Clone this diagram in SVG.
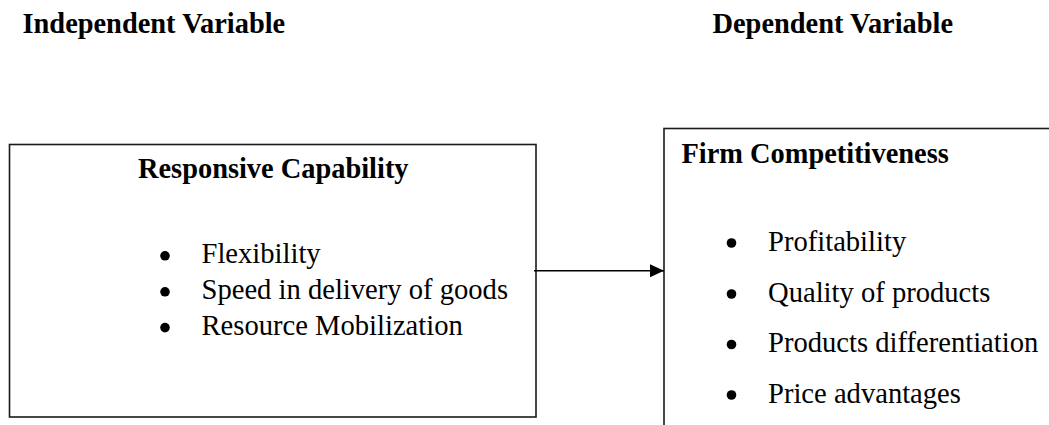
<svg xmlns="http://www.w3.org/2000/svg" width="1049" height="425" viewBox="0 0 1049 425">
  <style>
    .box { fill: #ffffff; stroke: #1a1a1a; stroke-width: 1.6; }
    .head { font-family: "Liberation Serif", "Times New Roman", serif; font-weight: bold; font-size: 28.4px; fill: #000; }
    .item { font-family: "Liberation Serif", "Times New Roman", serif; font-size: 28.6px; fill: #000; }
    .dot { fill: #000; }
    .link { stroke: #000; stroke-width: 1.6; fill: none; }
  </style>
  <defs>
    <marker id="arrow" markerUnits="userSpaceOnUse" markerWidth="16" markerHeight="14" refX="14" refY="6.5" orient="auto">
      <path d="M0,0 L14,6.5 L0,13 Z" fill="#000"/>
    </marker>
  </defs>
  <rect width="1049" height="425" fill="#ffffff"/>

  <!-- column titles -->
  <text class="head" x="22.5" y="33">Independent Variable</text>
  <text class="head" x="712.5" y="33">Dependent Variable</text>

  <!-- independent variable box -->
  <g id="responsive-capability">
    <rect class="box" x="9.5" y="144.5" width="526.5" height="272.5"/>
    <text class="head" x="138" y="178.3">Responsive Capability</text>
    <circle class="dot" cx="165" cy="255.8" r="4.8"/>
    <text class="item" x="201.5" y="263.3">Flexibility</text>
    <circle class="dot" cx="165" cy="291.8" r="4.8"/>
    <text class="item" x="201.5" y="299.3">Speed in delivery of goods</text>
    <circle class="dot" cx="165" cy="327.6" r="4.8"/>
    <text class="item" x="201.5" y="335.1">Resource Mobilization</text>
  </g>

  <!-- dependent variable box (runs past the right and bottom edges) -->
  <g id="firm-competitiveness">
    <rect class="box" x="664" y="128.5" width="420" height="330"/>
    <text class="head" x="681.5" y="162.7">Firm Competitiveness</text>
    <circle class="dot" cx="731.5" cy="243" r="4.8"/>
    <text class="item" x="768" y="250.5">Profitability</text>
    <circle class="dot" cx="731.5" cy="294" r="4.8"/>
    <text class="item" x="768" y="301.5">Quality of products</text>
    <circle class="dot" cx="731.5" cy="344.5" r="4.8"/>
    <text class="item" x="768" y="352">Products differentiation</text>
    <circle class="dot" cx="731.5" cy="395" r="4.8"/>
    <text class="item" x="768" y="402.5">Price advantages</text>
  </g>

  <!-- connectors -->
  <g id="connectors">
    <line class="link" x1="534" y1="270.7" x2="664" y2="270.7" marker-end="url(#arrow)"/>
  </g>
</svg>
